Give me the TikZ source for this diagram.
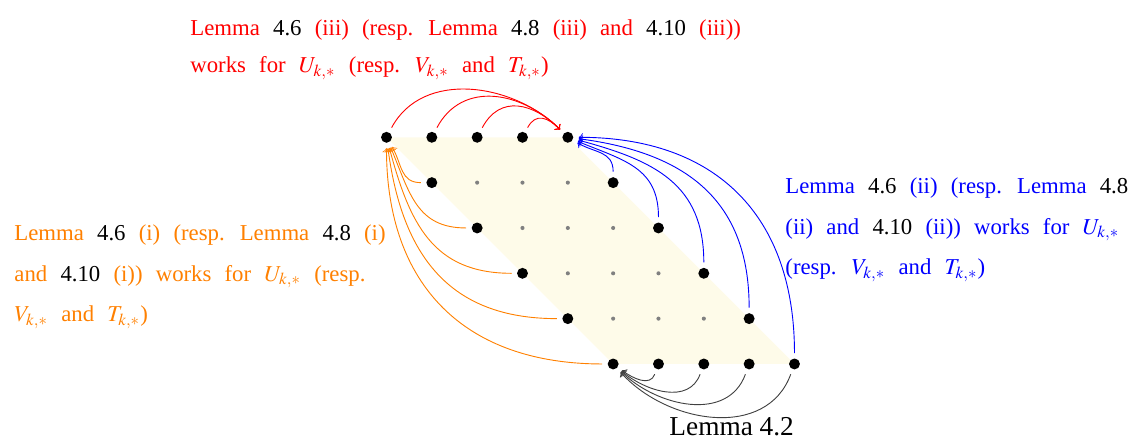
\documentclass[tikz,border=0pt]{standalone}
\usepackage{mathptmx}
\usepackage{fontspec}
\setmainfont{Liberation Serif}
\usepackage{xcolor}
\usetikzlibrary{arrows,positioning}

\definecolor{sheet}{RGB}{254,251,233}
\definecolor{lemorange}{RGB}{255,128,0}
\newcommand{\lemref}[1]{\textcolor{black}{#1}}

\begin{document}
\begin{tikzpicture}[x=0.7cm, y=0.7cm,
    bigdot/.style={circle, fill=black, inner sep=0pt, minimum size=4.8pt, outer sep=2.4pt},
    smalldot/.style={circle, fill=gray, inner sep=0pt, minimum size=1.8pt},
    remark/.style={inner sep=0pt, anchor=north west, align=left, font={\fontsize{10}{#1}\selectfont\spaceskip=.58em\relax}},
    link/.style={->, >=to}
]
    \useasboundingbox (-8.526,-6.744) rectangle (16.534,3.029);
    \fill[sheet] (0,0) -- (4,0) -- (9,-5) -- (5,-5) -- cycle;

    \foreach \r in {0,...,5} {
        \foreach \c in {0,...,4} {
            \pgfmathtruncatemacro\edge{(\r==0)||(\r==5)||(\c==0)||(\c==4)}
            \ifnum\edge=1
                \node[bigdot] (p\r\c) at (\r+\c,-\r) {};
            \else
                \node[smalldot] (p\r\c) at (\r+\c,-\r) {};
            \fi
        }
    }

    \foreach \c in {0,...,3} {
        \pgfmathsetmacro\loose{1+0.12*\c}
        \draw[link, red] (p0\c) to[out=62, in=135, looseness=\loose] (p04);
    }
    \foreach \r in {1,...,5} {
        \pgfmathsetmacro\inang{-37.5+7.5*\r}
        \draw[link, blue] (p\r4) to[out=90, in=\inang, looseness=1.15] (p04);
    }
    \foreach \r in {1,...,5} {
        \pgfmathsetmacro\inang{-52.5-7.5*\r}
        \draw[link, lemorange] (p\r0) to[out=180, in=\inang, looseness=1.15] (p00);
    }
    \foreach \c in {1,...,4} {
        \pgfmathsetmacro\inang{-32-4*\c}
        \draw[link, black!75] (p5\c) to[out=-110, in=\inang, looseness=1.05] (p50);
    }

    \node[remark=16.3, text=red] (toplabel) at (-4.335,2.599) {Lemma \lemref{4.6} (iii) (resp. Lemma \lemref{4.8} (iii) and \lemref{4.10} (iii))\\
        works for $U_{k,*}$ (resp. $V_{k,*}$ and $T_{k,*}$)};
    \node[remark=17.7, text=lemorange] (leftlabel) at (-8.217,-1.924) {Lemma \lemref{4.6} (i) (resp. Lemma \lemref{4.8} (i)\\
        and \lemref{4.10} (i)) works for $U_{k,*}$ (resp.\\
        $V_{k,*}$ and $T_{k,*}$)};
    \node[remark=17.7, text=blue] (rightlabel) at (8.791,-0.887) {Lemma \lemref{4.6} (ii) (resp. Lemma \lemref{4.8}\\
        (ii) and \lemref{4.10} (ii)) works for $U_{k,*}$\\
        (resp. $V_{k,*}$ and $T_{k,*}$)};
    \node[anchor=base west, inner sep=0pt, font=\fontsize{12}{14}\selectfont] (lowlabel) at (6.232,-6.583) {Lemma 4.2};
\end{tikzpicture}
\end{document}
